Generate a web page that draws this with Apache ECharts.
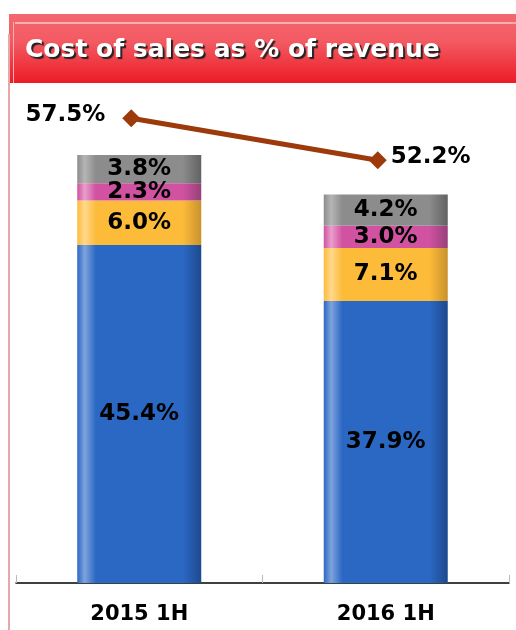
<!DOCTYPE html>
<html><head><meta charset="utf-8">
<script src="https://cdn.jsdelivr.net/npm/echarts@6/dist/echarts.min.js"></script>
<style>html,body{margin:0;padding:0;background:#fff}#c{width:516px;height:630px}</style>
</head><body><div id="c"></div>
<script>
var categories = ['2015 1H', '2016 1H'];
var seriesNames = ['Raw', 'Processing', 'Other', 'Misc'];
var blueVals = [45.4, 37.9];
var yellowVals = [6.0, 7.1];
var pinkVals = [2.3, 3.0];
var grayVals = [3.8, 4.2];
var totalVals = [57.5, 52.2];
var titleText = 'Cost of sales as % of revenue';

var FONT = 'DejaVu Sans';
function grad(base, light, dark) {
  return new echarts.graphic.LinearGradient(0, 0, 1, 0, [
    {offset: 0, color: base},
    {offset: 0.06, color: light},
    {offset: 0.15, color: base},
    {offset: 0.85, color: base},
    {offset: 1, color: dark}
  ]);
}
var colors = [
  grad('#2B68C4', '#7FA3DC', '#1E4A8E'),
  grad('#FDBB3A', '#FFD88C', '#C8922C'),
  grad('#D052A0', '#E99ECB', '#98407A'),
  grad('#8C8C8C', '#B5B5B5', '#626262')
];
var vals = [blueVals, yellowVals, pinkVals, grayVals];
var lbl = {show: true, position: 'inside', color: '#000', fontFamily: FONT, fontWeight: 'bold', fontSize: 23,
  formatter: function (p) { return p.value.toFixed(1) + '%'; }};
var series = vals.map(function (v, i) {
  return {name: seriesNames[i], type: 'bar', stack: 's', barWidth: 124, data: v,
    itemStyle: {color: colors[i]}, label: lbl, silent: true};
});
var lineLbl = [{position: 'left', distance: 17, offset: [0, -3]}, {position: 'right', distance: 4, offset: [0, -3]}];
series.push({
  type: 'line', xAxisIndex: 1, yAxisIndex: 1,
  data: totalVals.map(function (v, i) { return {value: v, label: lineLbl[i]}; }),
  symbol: 'diamond', symbolSize: 18,
  lineStyle: {color: '#9C3A0C', width: 5}, itemStyle: {color: '#9C3A0C'},
  label: {show: true, fontFamily: FONT, fontWeight: 'bold', fontSize: 23, color: '#000',
    formatter: function (p) { return p.value.toFixed(1) + '%'; }}
});

var chart = echarts.init(document.getElementById('c'));
chart.setOption({
  animation: false,
  grid: [{left: 16, right: 7, top: 100, bottom: 47}, {left: 8, right: 15, top: 100, bottom: 47}],
  xAxis: [{type: 'category', data: categories,
    axisLine: {lineStyle: {color: '#000', width: 1.5}},
    axisTick: {show: true, inside: true, length: 8, lineStyle: {color: '#bbb'}},
    axisLabel: {color: '#000', fontFamily: FONT, fontWeight: 'bold', fontSize: 21, margin: 21}},
    {type: 'category', data: categories, gridIndex: 1, show: false}],
  yAxis: [
    {type: 'value', min: 0, max: 64.9, show: false, splitLine: {show: false}},
    {type: 'value', gridIndex: 1, min: -1.2, max: 59.8, show: false, splitLine: {show: false}}
  ],
  series: series,
  graphic: [
    {type: 'rect', shape: {x: 9, y: 14, width: 507, height: 69}, z: 0,
      style: {fill: new echarts.graphic.LinearGradient(0, 0, 0, 1, [
        {offset: 0, color: '#F46870'}, {offset: 0.4, color: '#F35A62'}, {offset: 1, color: '#EC1C26'}])}},
    {type: 'rect', shape: {x: 15, y: 22, width: 501, height: 2}, z: 1, style: {fill: '#F8B0B4'}},
    {type: 'rect', shape: {x: 13, y: 22, width: 1, height: 61}, z: 1, style: {fill: '#F8B0B4'}},
    {type: 'rect', shape: {x: 8, y: 34, width: 2, height: 596}, z: 1, style: {fill: '#E9A6A9'}},
    {type: 'text', x: 25, y: 38, z: 2, style: {text: titleText, fill: '#fff', fontFamily: FONT,
      fontWeight: 'bold', fontSize: 25, textShadowColor: '#222', textShadowOffsetX: 2, textShadowOffsetY: 2, textShadowBlur: 1}}
  ]
});
</script></body></html>
